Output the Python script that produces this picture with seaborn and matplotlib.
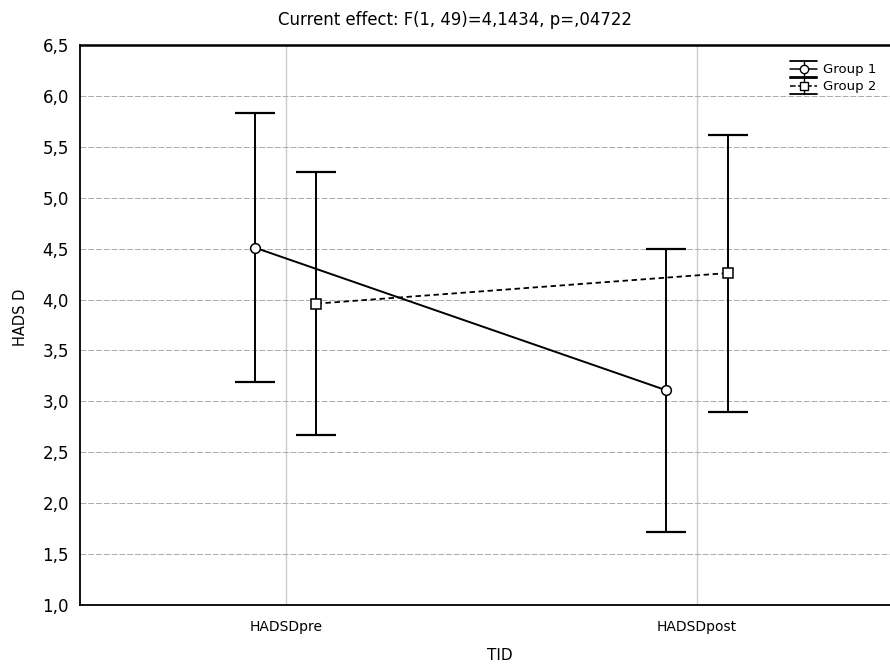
import seaborn as sns
import matplotlib.pyplot as plt
import pandas as pd
from matplotlib.ticker import FuncFormatter
from matplotlib.legend_handler import HandlerBase
from matplotlib.lines import Line2D

groups = ['Group 1', 'Group 2']
times = ['HADSDpre', 'HADSDpost']
mean_g1 = [4.51, 3.11]
lower_g1 = [3.19, 1.72]
upper_g1 = [5.83, 4.50]
mean_g2 = [3.96, 4.26]
lower_g2 = [2.67, 2.90]
upper_g2 = [5.25, 5.62]

sns.set_style("white")
plt.rcParams['font.family'] = ['DejaVu Sans']
plt.rcParams['text.color'] = 'black'
plt.rcParams['xtick.color'] = 'black'
plt.rcParams['ytick.color'] = 'black'
plt.rcParams['axes.labelcolor'] = 'black'

offset = {'Group 1': -0.075, 'Group 2': 0.075}
rows = []
for g, m, lo, up in [('Group 1', mean_g1, lower_g1, upper_g1),
                     ('Group 2', mean_g2, lower_g2, upper_g2)]:
    for i, t in enumerate(times):
        rows.append({'TID': t, 'pos': i + offset[g], 'Group': g,
                     'mean': m[i], 'lower': lo[i], 'upper': up[i]})
df = pd.DataFrame(rows)


class CapHandler(HandlerBase):
    # line + marker with an error cap above and below, like the original legend
    def create_artists(self, legend, orig, xd, yd, w, h, fontsize, trans):
        yc = h / 2 - yd
        x0, x1 = -xd, w - xd
        dy = h / 2 + 2.5
        main = Line2D([x0, x1], [yc, yc], color='black',
                      linestyle=orig.get_linestyle(), linewidth=1.1, transform=trans)
        mk = Line2D([(x0 + x1) / 2], [yc], marker=orig.get_marker(), markersize=6,
                    markerfacecolor='white', markeredgecolor='black',
                    markeredgewidth=1.0, linestyle='none', transform=trans)
        vert = Line2D([(x0 + x1) / 2] * 2, [yc - dy, yc + dy], color='black',
                      linewidth=1.0, transform=trans)
        top = Line2D([x0, x1], [yc + dy, yc + dy], color='black', linewidth=1.3, transform=trans)
        bot = Line2D([x0, x1], [yc - dy, yc - dy], color='black', linewidth=1.3, transform=trans)
        return [vert, main, top, bot, mk]


fig = plt.figure(figsize=(8.9, 6.67), dpi=100)
ax = fig.add_axes([0.09, 0.093, 0.91, 0.8395])

handles = []
styles = {'Group 1': ('-', 'o', 7), 'Group 2': ((0, (3, 2)), 's', 6.8)}
for g in groups:
    sub = df[df.Group == g]
    ls, mk, ms = styles[g]
    ax.errorbar(sub['pos'], sub['mean'],
                yerr=[sub['mean'] - sub['lower'], sub['upper'] - sub['mean']],
                fmt='none', ecolor='black', elinewidth=1.4, capsize=14.5,
                capthick=1.6, zorder=2)
    sns.lineplot(data=sub, x='pos', y='mean', ax=ax, color='black',
                 linestyle=ls, linewidth=1.4 if g == 'Group 1' else 1.3,
                 marker=mk, markersize=ms, markerfacecolor='white',
                 markeredgecolor='black', markeredgewidth=1.1, zorder=3)
    handles.append(ax.lines[-1])

ax.legend(handles, groups, loc='upper right', bbox_to_anchor=(1.0, 0.991),
          frameon=False, fontsize=9.5,
          handlelength=2.0, handletextpad=0.5, borderaxespad=0.6,
          labelspacing=0.3, handler_map={Line2D: CapHandler()})

ax.set_xlim(-0.5, 1.47)
ax.set_ylim(1.0, 6.5)
ax.set_xticks([0, 1])
ax.set_xticklabels(times, fontsize=10)
ax.set_yticks([1.0 + 0.5 * k for k in range(12)])
ax.yaxis.set_major_formatter(FuncFormatter(lambda v, p: f"{v:.1f}".replace('.', ',')))
ax.tick_params(axis='y', labelsize=12, direction='out', length=4, width=0.8, pad=4)
ax.tick_params(axis='x', direction='in', length=4, width=0.8, pad=11)

ax.grid(axis='y', color='#aaaaaa', linestyle=(0, (6, 2)), linewidth=0.7, zorder=0)
ax.grid(axis='x', color='#cccccc', linestyle='-', linewidth=1.0, zorder=0)
ax.set_axisbelow(True)

for s in ['left', 'bottom', 'top']:
    ax.spines[s].set_color('black')
    ax.spines[s].set_linewidth(1.3)
ax.spines['top'].set_linewidth(1.8)
ax.spines['right'].set_visible(False)

ax.set_xlabel('TID', fontsize=11)
ax.xaxis.set_label_coords(0.518, -0.091)
ax.xaxis.label.set_verticalalignment('center')
ax.set_ylabel('HADS D', fontsize=10.5)
ax.yaxis.set_label_coords(-0.064, 0.514)
fig.text(0.511, 0.970, 'Current effect: F(1, 49)=4,1434, p=,04722',
         fontsize=11.9, ha='center', va='center')

fig.savefig('out.png', dpi=100)
